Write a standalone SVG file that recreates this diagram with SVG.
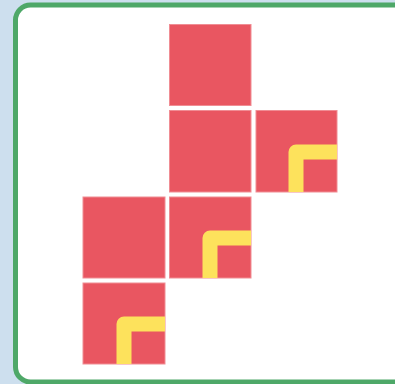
<svg xmlns="http://www.w3.org/2000/svg" width="395" height="384" viewBox="0 0 395 384">
<style>
.sq{fill:#e95661;stroke:#f08d94;stroke-width:1}
.mk{fill:none;stroke:#fde25c;stroke-width:15;stroke-linejoin:round}
</style>
<rect x="0" y="0" width="395" height="384" fill="#cddfee"/>
<rect x="15.5" y="5" width="400" height="377" rx="15" ry="15" fill="#ffffff" stroke="#4ea868" stroke-width="5"/>
<g id="net">
<g id="f1"><rect class="sq" x="169.5" y="24.5" width="81.5" height="81"/></g>
<g id="f2"><rect class="sq" x="169.5" y="110.5" width="81.5" height="81.5"/></g>
<g id="f3"><rect class="sq" x="256" y="110.5" width="81" height="81.5"/><path class="mk" d="M337 152 H296 V192"/></g>
<g id="f4"><rect class="sq" x="83" y="197" width="82" height="81"/></g>
<g id="f5"><rect class="sq" x="169.5" y="197" width="81.5" height="81"/><path class="mk" d="M251 238 H210 V278"/></g>
<g id="f6"><rect class="sq" x="83" y="283" width="82" height="81"/><path class="mk" d="M165 324 H124 V364"/></g>
</g>
<g id="connectors"/>
</svg>
